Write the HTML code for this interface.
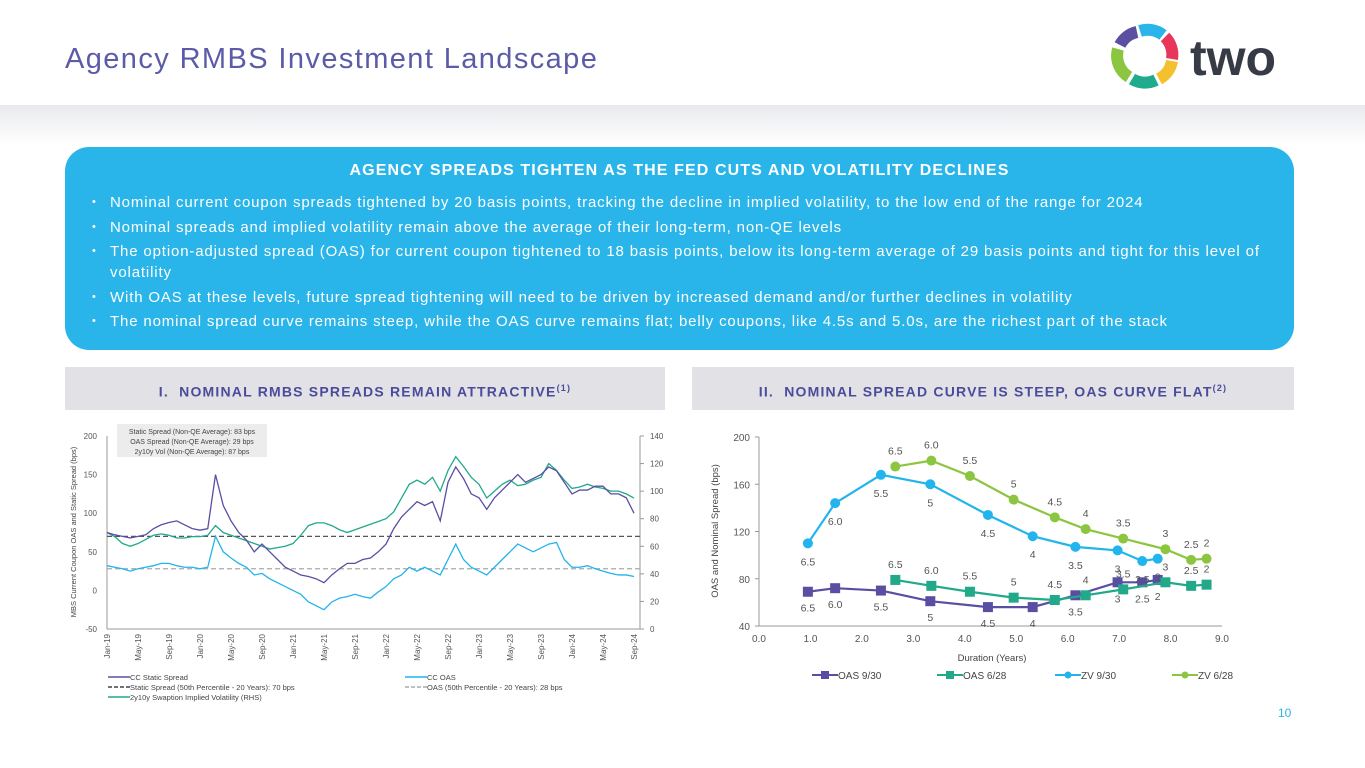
<!DOCTYPE html>
<html><head><meta charset="utf-8"><style>
*{margin:0;padding:0;box-sizing:border-box}
body{width:1365px;height:768px;position:relative;background:#fff;font-family:"Liberation Sans",sans-serif;overflow:hidden}
.abs{position:absolute}
#title{left:65px;top:43px;font-size:29px;letter-spacing:1.4px;color:#5b5ba8}
#band{left:0;top:105px;width:1365px;height:40px;background:linear-gradient(#e9eaee,#fff)}
#box{left:65px;top:147px;width:1229px;height:203px;background:#29b5ea;border-radius:24px;color:#fff}
#box h2{font-size:16px;letter-spacing:1.1px;text-align:center;margin-top:15px;font-weight:bold}
#box ul{list-style:none;margin:12px 20px 0 27px;font-size:15px;letter-spacing:0.85px;line-height:21px}
#box li{position:relative;padding-left:18px;margin-bottom:3.5px}
#box li:before{content:"•";position:absolute;left:0;font-size:11px}
.sec{top:367px;height:43px;background:#e1e1e6;color:#4b4b9c;font-weight:bold;font-size:14px;letter-spacing:1.2px;text-align:center;line-height:43px}
#pg{left:1278px;top:706px;font-size:12px;color:#29b5ea}
text{font-family:"Liberation Sans",sans-serif}
</style></head><body>
<div class="abs" id="band"></div>
<div class="abs" id="title">Agency RMBS Investment Landscape</div>
<svg class="abs" style="left:1110px;top:22px" width="190" height="68">
<g fill="none" stroke-width="12">
<path d="M27 10 A25 25 0 0 0 10 23" stroke="#5a4fa0"/>
<path d="M30 9 A25 25 0 0 1 53 13" stroke="#29b5ea"/>
<path d="M55 15 A25 25 0 0 1 62 37" stroke="#e8365a"/>
<path d="M62 39 A25 25 0 0 1 49 57" stroke="#f5c02e"/>
<path d="M46 58 A25 25 0 0 1 22 57" stroke="#1fab8c"/>
<path d="M19 55 A25 25 0 0 1 8 27" stroke="#8cc540"/>
</g>
<text x="80" y="53" font-size="50" font-weight="bold" fill="#363b45">two</text>
</svg>
<div class="abs" id="box">
<h2>AGENCY SPREADS TIGHTEN AS THE FED CUTS AND VOLATILITY DECLINES</h2>
<ul>
<li>Nominal current coupon spreads tightened by 20 basis points, tracking the decline in implied volatility, to the low end of the range for 2024</li>
<li>Nominal spreads and implied volatility remain above the average of their long-term, non-QE levels</li>
<li>The option-adjusted spread (OAS) for current coupon tightened to 18 basis points, below its long-term average of 29 basis points and tight for this level of volatility</li>
<li>With OAS at these levels, future spread tightening will need to be driven by increased demand and/or further declines in volatility</li>
<li>The nominal spread curve remains steep, while the OAS curve remains flat; belly coupons, like 4.5s and 5.0s, are the richest part of the stack</li>
</ul></div>
<div class="abs sec" style="left:65px;width:600px">I.&nbsp; NOMINAL RMBS SPREADS REMAIN ATTRACTIVE<sup style="font-size:9px">(1)</sup></div>
<div class="abs sec" style="left:692px;width:602px">II.&nbsp; NOMINAL SPREAD CURVE IS STEEP, OAS CURVE FLAT<sup style="font-size:9px">(2)</sup></div>
<div class="abs" id="pg">10</div>
<svg class="abs" style="left:0;top:0" width="1365" height="768" id="charts"></svg>
<script>
// Left chart data (monthly, Jan-19 .. Sep-24)
const months=["Jan-19","May-19","Sep-19","Jan-20","May-20","Sep-20","Jan-21","May-21","Sep-21","Jan-22","May-22","Sep-22","Jan-23","May-23","Sep-23","Jan-24","May-24","Sep-24"];
const staticSpread=[75,72,70,68,70,72,80,85,88,90,85,80,78,80,150,110,90,75,65,50,60,50,40,30,25,20,18,15,10,20,28,35,35,40,42,50,60,80,95,105,115,110,115,90,140,160,145,125,120,105,120,130,140,150,140,145,150,160,155,140,125,130,130,135,135,125,125,120,100];
const ccOAS=[32,30,28,25,28,30,32,35,35,32,30,30,28,30,70,50,42,35,30,20,22,15,10,5,0,-5,-15,-20,-25,-15,-10,-8,-5,-8,-10,-2,5,15,20,30,25,30,25,20,40,60,40,30,25,20,30,40,50,60,55,50,55,60,62,40,30,30,32,28,25,22,20,20,18];
const swaptionVol=[70,67,62,60,62,65,68,69,68,66,66,67,67,68,75,70,68,66,64,62,60,58,59,60,62,68,75,77,77,75,72,70,72,74,76,78,80,85,95,105,108,105,110,100,115,125,118,110,105,95,100,105,108,104,105,108,110,120,115,108,102,103,105,103,102,100,100,98,95];
const leftTicks=[200,150,100,50,0,-50];
const rightTicks=[140,120,100,80,60,40,20,0];
const staticMedian=70, oasMedian=28;
// Right chart data
const durOAS930=[0.95,1.48,2.37,3.33,4.45,5.32,6.15,6.97,7.45,7.75];
const valOAS930=[69,72,70,61,56,56,66,77,77,79];
const durOAS628=[2.65,3.35,4.1,4.95,5.75,6.35,7.08,7.9,8.4,8.7];
const valOAS628=[79,74,69,64,62,66,71,77,74,75];
const durZV930=[0.95,1.48,2.37,3.33,4.45,5.32,6.15,6.97,7.45,7.75];
const valZV930=[110,144,168,160,134,116,107,104,95,97];
const durZV628=[2.65,3.35,4.1,4.95,5.75,6.35,7.08,7.9,8.4,8.7];
const valZV628=[175,180,167,147,132,122,114,105,96,97];
const coupons930=["6.5","6.0","5.5","5","4.5","4","3.5","3","2.5","2"];
const coupons628=["6.5","6.0","5.5","5","4.5","4","3.5","3","2.5","2"];
const xTicks=[0,1,2,3,4,5,6,7,8,9];
const yTicksR=[200,160,120,80,40];

const NS="http://www.w3.org/2000/svg";
const svg=document.getElementById('charts');
function mk(tag,attrs,parent){const e=document.createElementNS(NS,tag);for(const k in attrs)e.setAttribute(k,attrs[k]);(parent||svg).appendChild(e);return e;}
function txt(s,x,y,size,fill,anchor,parent){const t=mk('text',{x:x,y:y,'font-size':size,fill:fill,'text-anchor':anchor||'start'},parent);t.textContent=s;return t;}

// ---- Left chart
const L={x0:107,x1:640,y0:629,y1:436};
const lx=i=>L.x0+i*(634-L.x0)/68;
const ly=v=>L.y0-(v+50)/250*(L.y0-L.y1);
const ry=v=>L.y0-v/140*(L.y0-L.y1);
const gl=mk('g',{});


mk('line',{x1:L.x0,y1:L.y1,x2:L.x0,y2:L.y0,stroke:'#999'},gl);
mk('line',{x1:L.x1,y1:L.y1,x2:L.x1,y2:L.y0,stroke:'#999'},gl);
mk('line',{x1:L.x0,y1:L.y0,x2:L.x1,y2:L.y0,stroke:'#999'},gl);
leftTicks.forEach(v=>{const t=txt(v,97,ly(v)+3,8,'#555','end',gl);});
rightTicks.forEach(v=>{const t=txt(v,650,ry(v)+3,8,'#555','start',gl);mk('line',{x1:L.x1,x2:L.x1+4,y1:ry(v),y2:ry(v),stroke:'#999'},gl);});
months.forEach((m,i)=>{const x=lx(i*4);const t=txt(m,0,0,8,'#555','end',gl);t.setAttribute('transform',`translate(${x+3},${L.y0+5}) rotate(-90)`);});
const yt=txt('MBS Current Coupon OAS and Static Spread (bps)',0,0,7.5,'#444','middle',gl);
yt.setAttribute('transform','translate(76,532) rotate(-90)');


let hl=mk('line',{x1:L.x0,x2:L.x1,y1:ly(staticMedian),y2:ly(staticMedian),stroke:'#555','stroke-dasharray':'5,3','stroke-width':1.3},gl);


hl=mk('line',{x1:L.x0,x2:L.x1,y1:ly(oasMedian),y2:ly(oasMedian),stroke:'#aaa','stroke-dasharray':'5,3','stroke-width':1.2},gl);


function series(arr,fx,fy,color,name){const p=mk('polyline',{points:arr.map((v,i)=>fx(i)+','+fy(v)).join(' '),fill:'none',stroke:color,'stroke-width':1.3},gl);}
series(swaptionVol,lx,ry,'#21a98a','vol-line');
series(ccOAS,lx,ly,'#22b4ec','oas-line');
series(staticSpread,lx,ly,'#5a4ea3','static-spread-line');
const nb=mk('rect',{x:117,y:424,width:150,height:33,fill:'#ececec'},gl);


txt('Static Spread (Non-QE Average): 83 bps',192,434,7,'#444','middle',gl);
txt('OAS Spread (Non-QE Average): 29 bps',192,444,7,'#444','middle',gl);
txt('2y10y Vol (Non-QE Average): 87 bps',192,454,7,'#444','middle',gl);
function legL(x,y,col,dash,label){const g=mk('g',{},gl);const a={x1:x,x2:x+22,y1:y-3,y2:y-3,stroke:col,'stroke-width':1.5};if(dash)a['stroke-dasharray']='4,2';mk('line',a,g);txt(label,x+22,y,7.5,'#444','start',g);}
legL(108,680,'#5a4ea3',false,'CC Static Spread');
legL(108,690,'#444',true,'Static Spread (50th Percentile - 20 Years): 70 bps');
legL(108,700,'#21a98a',false,'2y10y Swaption Implied Volatility (RHS)');
legL(405,680,'#22b4ec',false,'CC OAS');
legL(405,690,'#aaa',true,'OAS (50th Percentile - 20 Years): 28 bps');

// ---- Right chart
const R={x0:759,x1:1222,y0:626,y1:437};
const fx=d=>R.x0+d/9*(R.x1-R.x0);
const fy=v=>R.y0-(v-40)/160*(R.y0-R.y1);
const gr=mk('g',{});


mk('line',{x1:R.x0,y1:R.y1,x2:R.x0,y2:R.y0,stroke:'#999'},gr);
mk('line',{x1:R.x0,y1:R.y0,x2:R.x1,y2:R.y0,stroke:'#999'},gr);
yTicksR.forEach(v=>{const t=txt(v,750,fy(v)+4,10,'#555','end',gr);mk('line',{x1:R.x0-4,x2:R.x0,y1:fy(v),y2:fy(v),stroke:'#999'},gr);});
xTicks.forEach(v=>{const t=txt(v.toFixed(1),fx(v),642,10,'#555','middle',gr);});
let at=txt('Duration (Years)',992,661,9.5,'#444','middle',gr);


at=txt('OAS and Nominal Spread (bps)',0,0,9.5,'#444','middle',gr);
at.setAttribute('transform','translate(718,531) rotate(-90)');


function curve(xs,vs,labels,col,shape,off,name){
 const g=mk('g',{},gr);
 mk('polyline',{points:xs.map((d,i)=>fx(d)+','+fy(vs[i])).join(' '),fill:'none',stroke:col,'stroke-width':2.2},g);
 xs.forEach((d,i)=>{const x=fx(d),y=fy(vs[i]);let m;
  if(shape==='sq')m=mk('rect',{x:x-5,y:y-5,width:10,height:10,fill:col},g);else m=mk('circle',{cx:x,cy:y,r:5,fill:col},g);
  
  txt(labels[i],x,y+off,10.5,'#555','middle',g);});
}
curve(durOAS930,valOAS930,coupons930,'#5a4ea3','sq',20,'series-oas-9-30');
curve(durOAS628,valOAS628,coupons628,'#21a98a','sq',-12,'series-oas-6-28');
curve(durZV930,valZV930,coupons930,'#22b4ec','c',22,'series-zv-9-30');
curve(durZV628,valZV628,coupons628,'#8cc540','c',-12,'series-zv-6-28');
function legR(x,col,shape,label){const g=mk('g',{},gr);mk('line',{x1:x,x2:x+26,y1:675,y2:675,stroke:col,'stroke-width':2},g);if(shape==='sq')mk('rect',{x:x+9,y:671,width:8,height:8,fill:col},g);else mk('circle',{cx:x+13,cy:675,r:3.5,fill:col},g);txt(label,x+26,679,10,'#444','start',g);}
legR(812,'#5a4ea3','sq','OAS 9/30');
legR(937,'#21a98a','sq','OAS 6/28');
legR(1055,'#22b4ec','c','ZV 9/30');
legR(1172,'#8cc540','c','ZV 6/28');
</script>
</body></html>
